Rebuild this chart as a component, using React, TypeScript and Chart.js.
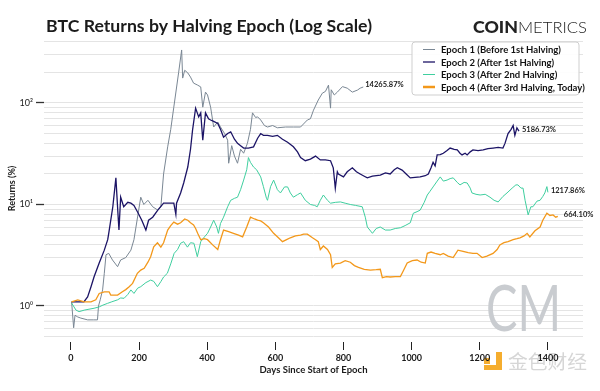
import React, { useEffect, useRef } from 'react';
import { Chart, registerables } from 'chart.js';

Chart.register(...registerables);

// ---------- data ----------
const seriesLabels = [
  'Epoch 1 (Before 1st Halving)',
  'Epoch 2 (After 1st Halving)',
  'Epoch 3 (After 2nd Halving)',
  'Epoch 4 (After 3rd Halving, Today)',
];
const endLabels = ['14265.87%', '5186.73%', '1217.86%', '664.10%'];

const epoch1Days = [2, 8, 12, 20, 29, 49, 67, 78, 81, 86, 93, 98, 103, 111, 122, 137, 146, 161, 176, 185, 205, 214, 226, 240, 255, 264, 272, 284, 293, 302, 316, 325, 328, 334, 343, 351, 360, 372, 381, 387, 395, 401, 410, 419, 431, 439, 451, 460, 463, 472, 480, 489, 498, 507, 518, 527, 533, 542, 548, 557, 568, 577, 592, 606, 630, 653, 674, 694, 703, 712, 726, 738, 747, 756, 762, 764, 773, 782, 797, 811, 826, 841, 849, 858];
const epoch1Values = [1.1, 0.61, 0.81, 0.78, 0.76, 0.73, 0.73, 0.73, 1.0, 1.15, 1.44, 2.1, 3.2, 3.3, 2.84, 2.44, 2.84, 3.0, 3.55, 4.5, 11.8, 10, 11, 9.5, 8.8, 9.5, 20, 37, 55, 91, 198, 333, 176, 210, 198, 180, 157, 150, 144, 91, 128, 120, 91, 58, 65, 58, 50, 43, 25.5, 38, 30, 25.5, 35, 32, 40, 55, 80, 72, 73, 68, 60, 58, 60, 57, 58, 58, 58, 68, 70, 85, 107, 125, 130, 150, 89, 135, 120, 128, 145, 140, 128, 134, 140, 143.6587];

const epoch2Days = [2, 38, 49, 59, 68, 83, 98, 108, 111, 123, 132, 138, 141, 146, 155, 167, 176, 185, 196, 208, 220, 228, 240, 255, 272, 287, 302, 308, 310, 322, 331, 343, 351, 357, 366, 375, 381, 387, 395, 404, 410, 419, 431, 439, 448, 460, 469, 480, 489, 498, 507, 521, 536, 548, 557, 565, 577, 592, 606, 621, 636, 653, 665, 674, 688, 703, 718, 732, 747, 762, 770, 776, 782, 785, 800, 811, 826, 838, 849, 861, 870, 885, 908, 923, 937, 949, 958, 972, 984, 996, 1010, 1025, 1040, 1049, 1057, 1063, 1069, 1075, 1084, 1093, 1104, 1113, 1125, 1134, 1142, 1148, 1157, 1163, 1172, 1180, 1195, 1210, 1224, 1239, 1254, 1268, 1274, 1283, 1292, 1298, 1303, 1309, 1315];
const epoch2Values = [1.1, 1.1, 1.23, 1.55, 1.94, 2.65, 3.55, 4.5, 5.2, 9.5, 18.3, 8.2, 5.6, 11.8, 9.5, 10.5, 10.3, 9.8, 8.4, 7.0, 5.6, 7, 7.5, 8.8, 10.3, 10.3, 10.3, 8.0, 10.3, 13, 16.3, 23.4, 35, 54, 89, 73, 80, 43, 80, 70, 68, 66, 63, 55, 46, 50, 52, 44, 40, 38, 36, 36, 37, 45, 50, 48, 48, 47, 48, 44, 41, 37, 33, 29, 27, 28, 30, 27.5, 27.5, 27, 23, 14.5, 21, 20, 18.7, 21, 23, 21, 20, 19, 18.3, 19, 19.5, 20.5, 20, 22, 23, 21.8, 20, 18.3, 18.5, 18.7, 19.2, 20, 23, 26, 24, 30.8, 31, 32, 34, 36, 35, 34.5, 32, 30.8, 32, 30.8, 33, 34.5, 34, 34.5, 35.5, 36, 36.5, 36, 40, 50, 55, 60, 48, 57, 52.8673];

const epoch3Days = [2, 15, 24, 39, 53, 68, 83, 94, 107, 120, 137, 146, 156, 167, 176, 185, 196, 205, 220, 234, 243, 254, 264, 272, 283, 293, 303, 313, 322, 331, 342, 351, 361, 371, 381, 392, 401, 410, 419, 428, 433, 439, 448, 460, 469, 480, 489, 498, 507, 516, 521, 527, 536, 545, 557, 565, 574, 577, 586, 595, 606, 615, 627, 636, 644, 653, 665, 674, 688, 703, 715, 723, 732, 741, 753, 762, 776, 791, 805, 820, 835, 855, 864, 870, 885, 896, 908, 923, 937, 952, 967, 981, 996, 1005, 1016, 1025, 1037, 1046, 1054, 1063, 1075, 1084, 1093, 1104, 1113, 1122, 1134, 1142, 1154, 1163, 1172, 1177, 1189, 1201, 1216, 1230, 1242, 1254, 1268, 1280, 1295, 1306, 1312, 1321, 1327, 1333, 1342, 1350, 1356, 1368, 1377, 1385, 1391, 1397, 1400];
const epoch3Values = [1.07, 0.91, 0.88, 0.91, 0.93, 0.95, 0.98, 1.02, 1.06, 1.1, 1.15, 1.2, 1.19, 1.3, 1.44, 1.33, 1.5, 1.55, 1.7, 1.8, 1.75, 1.55, 1.74, 1.93, 2.1, 2.6, 3.3, 3.6, 4.15, 4.3, 3.8, 4.2, 4.15, 3.06, 4.3, 4.8, 5.2, 6, 7.0, 6, 5.2, 6.5, 7.5, 9.5, 11, 11.5, 11.8, 14, 17.4, 22, 29, 26, 23.4, 22, 18.7, 15, 11.5, 11, 15, 17.4, 14, 13, 14.9, 14.9, 13, 11.8, 12.5, 13, 11, 10, 9.8, 9.5, 11, 12.4, 11, 10.3, 10.5, 10.6, 10.3, 10, 9.8, 9.5, 7.5, 6, 5.2, 5.8, 6, 5.6, 5.6, 5.8, 5.9, 6.2, 6.6, 8.2, 8.5, 8.8, 10.5, 12.4, 13.5, 14.9, 17, 18.7, 17, 17.4, 18, 18.3, 16.5, 15.6, 16.5, 16.3, 14.5, 13, 12.6, 12.4, 12.6, 11.8, 11, 10.6, 12, 13, 14.5, 15.6, 15.6, 14.5, 14.5, 11, 7.9, 9.5, 9.5, 10.8, 11, 12, 13, 15, 13.1786];

const epoch4Days = [2, 20, 39, 59, 73, 83, 98, 112, 117, 137, 151, 161, 171, 181, 195, 205, 215, 226, 234, 243, 254, 264, 272, 284, 293, 302, 313, 322, 334, 343, 351, 360, 366, 372, 381, 392, 401, 416, 431, 439, 448, 463, 477, 492, 504, 516, 527, 539, 548, 557, 565, 580, 595, 609, 621, 633, 644, 659, 674, 683, 694, 709, 718, 726, 732, 741, 753, 762, 767, 776, 791, 805, 820, 832, 844, 861, 879, 896, 908, 914, 926, 937, 952, 967, 975, 987, 1002, 1016, 1028, 1040, 1046, 1057, 1069, 1084, 1093, 1107, 1122, 1136, 1151, 1166, 1180, 1192, 1207, 1221, 1239, 1251, 1259, 1271, 1283, 1298, 1309, 1318, 1330, 1339, 1347, 1362, 1377, 1385, 1397, 1406, 1415, 1423, 1429];
const epoch4Values = [1.1, 1.15, 1.1, 1.1, 1.15, 1.33, 1.38, 1.38, 1.28, 1.28, 1.38, 1.45, 1.55, 1.67, 2.1, 2.26, 2.35, 2.7, 3.06, 3.83, 4.2, 3.8, 4.2, 5.6, 6.2, 6.7, 6.4, 6.6, 7.2, 7.0, 6.6, 6.3, 5.8, 5.2, 4.5, 4.6, 4.5, 4.0, 3.6, 4.5, 5.6, 5.4, 5.2, 5.0, 4.8, 6.0, 7.5, 7.2, 7.0, 6.9, 6.6, 6.0, 5.2, 4.7, 4.3, 4.5, 4.7, 4.9, 5.0, 5.1, 5.1, 4.7, 4.5, 4.3, 3.6, 3.9, 3.6, 3.2, 2.4, 2.6, 2.65, 2.8, 2.7, 2.5, 2.4, 2.3, 2.26, 2.28, 2.3, 1.9, 1.95, 1.93, 1.95, 1.95, 2.2, 2.65, 2.8, 2.84, 2.7, 2.65, 3.3, 3.4, 3.3, 3.2, 3.3, 3.1, 3.0, 3.55, 3.45, 3.35, 3.3, 3.3, 3.0, 3.1, 3.3, 3.6, 4.0, 4.2, 4.3, 4.5, 4.6, 4.7, 4.9, 5.2, 4.8, 5.5, 6.0, 7.0, 8.2, 7.8, 7.9, 7.5, 7.641];

const xTickValues = [0, 200, 400, 600, 800, 1000, 1200, 1400];
const yGridValues = [0.5, 0.6, 0.7, 0.8, 0.9, 1, 2, 3, 4, 5, 6, 7, 8, 9, 10, 20, 30, 40, 50, 60, 70, 80, 90, 100, 200, 300, 400];
const yLabelValues = [1, 10, 100];
const yTickLabels = ['10\u2070', '10\u00B9', '10\u00B2'];

const xTitle = 'Days Since Start of Epoch';
const yTitle = 'Returns (%)';
const chartTitle = 'BTC Returns by Halving Epoch (Log Scale)';

// ---------- styles ----------
const colors = ['#7a8794', '#1c1466', '#3fcf9f', '#f3981a'];
const widths = [1, 1.3, 1, 1.3];
const legendWidths = [1, 1.3, 1, 2.5];
const labelOffsets = [2, 3, 3, 6];
const FONT = 'Lato, "Open Sans", sans-serif';

const zip = (d: number[], v: number[]) => d.map((x, i) => ({ x, y: v[i] }));

function fitText(ctx: CanvasRenderingContext2D, text: string, x: number, y: number, width: number) {
  const w = ctx.measureText(text).width;
  ctx.save();
  ctx.translate(x, y);
  ctx.scale(width / w, 1);
  ctx.fillText(text, 0, 0);
  ctx.restore();
}

const overlayPlugin = {
  id: 'overlay',
  beforeDraw(chart: any) {
    const { ctx, width, height } = chart;
    ctx.save();
    ctx.fillStyle = '#ffffff';
    ctx.fillRect(0, 0, width, height);
    // 金色财经 watermark (under the axis labels)
    ctx.fillStyle = '#f5ad2e';
    ctx.fillRect(484, 358, 6, 6);
    ctx.fillRect(496, 352, 6, 18);
    ctx.fillRect(484, 365, 18, 5);
    ctx.fillStyle = '#d6d6d6';
    ctx.textBaseline = 'alphabetic';
    ctx.font = `19px "Noto Sans CJK SC", sans-serif`;
    fitText(ctx, '金色财经', 508, 369, 79);
    ctx.restore();
  },
  beforeDatasetsDraw(chart: any) {
    const { ctx } = chart;
    // CM watermark
    ctx.save();
    const grad = ctx.createLinearGradient(486, 283, 561, 331);
    grad.addColorStop(0, '#c9ccd0');
    grad.addColorStop(1, '#e2e4e6');
    ctx.fillStyle = grad;
    ctx.font = `400 64px ${FONT}`;
    ctx.textBaseline = 'alphabetic';
    fitText(ctx, 'CM', 486, 331, 75);
    ctx.restore();
  },
  afterDatasetsDraw(chart: any) {
    const { ctx } = chart;
    // end labels
    ctx.save();
    ctx.font = `bold 7.5px ${FONT}`;
    ctx.fillStyle = '#222222';
    ctx.textBaseline = 'middle';
    ctx.textAlign = 'left';
    chart.data.datasets.forEach((_: any, i: number) => {
      const meta = chart.getDatasetMeta(i);
      const last = meta.data[meta.data.length - 1];
      ctx.fillText(endLabels[i], last.x + labelOffsets[i], last.y - 2);
    });
    ctx.restore();

    // legend
    const bx = 412, by = 42, bw = 167, bh = 53, r = 3;
    ctx.save();
    ctx.beginPath();
    ctx.moveTo(bx + r, by);
    ctx.lineTo(bx + bw - r, by);
    ctx.arcTo(bx + bw, by, bx + bw, by + r, r);
    ctx.lineTo(bx + bw, by + bh - r);
    ctx.arcTo(bx + bw, by + bh, bx + bw - r, by + bh, r);
    ctx.lineTo(bx + r, by + bh);
    ctx.arcTo(bx, by + bh, bx, by + bh - r, r);
    ctx.lineTo(bx, by + r);
    ctx.arcTo(bx, by, bx + r, by, r);
    ctx.closePath();
    ctx.fillStyle = 'rgba(255,255,255,0.92)';
    ctx.fill();
    ctx.strokeStyle = '#cfcfcf';
    ctx.lineWidth = 1;
    ctx.stroke();
    ctx.font = `bold 9.5px ${FONT}`;
    ctx.fillStyle = '#111111';
    ctx.textBaseline = 'middle';
    seriesLabels.forEach((lab, i) => {
      const y = 49.5 + i * 12.5;
      ctx.beginPath();
      ctx.strokeStyle = colors[i];
      ctx.lineWidth = legendWidths[i];
      ctx.moveTo(423, y);
      ctx.lineTo(435, y);
      ctx.stroke();
      ctx.fillText(lab, 441, y + 0.5);
    });
    ctx.restore();
  },
  afterDraw(chart: any) {
    const { ctx } = chart;
    ctx.save();
    ctx.fillStyle = '#1b1b1b';
    ctx.textBaseline = 'alphabetic';
    ctx.font = `bold 17px ${FONT}`;
    fitText(ctx, chartTitle, 46, 32, 326);
    // Coin Metrics logo
    ctx.fillStyle = '#222222';
    ctx.font = `900 16px ${FONT}`;
    fitText(ctx, 'COIN', 473, 33, 45);
    ctx.font = `300 16px ${FONT}`;
    fitText(ctx, 'METRICS', 518, 33, 69);
    ctx.restore();
  },
};

export default function App() {
  const ref = useRef<HTMLCanvasElement | null>(null);
  useEffect(() => {
    if (!ref.current) return;
    const datasets = [
      zip(epoch1Days, epoch1Values),
      zip(epoch2Days, epoch2Values),
      zip(epoch3Days, epoch3Values),
      zip(epoch4Days, epoch4Values),
    ].map((data, i) => ({
      label: seriesLabels[i],
      data,
      borderColor: colors[i],
      backgroundColor: colors[i],
      borderWidth: widths[i],
      pointRadius: 0,
      tension: 0,
      fill: false,
      order: 3 - i,
    }));
    const chart = new Chart(ref.current, {
      type: 'line',
      data: { datasets },
      plugins: [overlayPlugin],
      options: {
        animation: false,
        responsive: false,
        devicePixelRatio: 1,
        layout: { padding: { top: 35, right: 17, left: 0, bottom: 0 } },
        plugins: { legend: { display: false }, title: { display: false }, tooltip: { enabled: false } },
        scales: {
          x: {
            type: 'linear',
            min: -79,
            max: 1503,
            afterFit: (s: any) => { s.height = 49; },
            afterBuildTicks: (s: any) => { s.ticks = xTickValues.map((v) => ({ value: v })); },
            border: { display: false },
            grid: { display: true, drawOnChartArea: false, drawTicks: true, tickLength: 8, tickColor: '#222', tickWidth: 1 },
            ticks: {
              color: '#1b1b1b',
              font: { family: FONT, size: 9, weight: 'bold' },
              padding: 3,
              maxRotation: 0,
              autoSkip: false,
              callback: (v: any) => String(v),
            },
            title: { display: true, text: xTitle, color: '#1b1b1b', font: { family: FONT, size: 9.5, weight: 'bold' }, padding: { top: 2, bottom: 15 } },
          },
          y: {
            type: 'logarithmic',
            min: 0.4418,
            max: 467.7,
            afterFit: (s: any) => { s.width = 44; },
            afterBuildTicks: (s: any) => { s.ticks = yGridValues.map((v) => ({ value: v, major: yLabelValues.includes(v) })); },
            border: { display: false },
            grid: {
              color: '#e4e4e4',
              lineWidth: 1,
              drawTicks: true,
              tickLength: 8,
              tickWidth: 1.3,
              tickColor: (c: any) => (c.tick && yLabelValues.includes(c.tick.value) ? '#333' : 'rgba(0,0,0,0)'),
            },
            ticks: {
              color: '#1b1b1b',
              font: { family: FONT, size: 9 },
              padding: 3,
              autoSkip: false,
              callback: (v: any) => {
                const idx = yLabelValues.indexOf(Number(v));
                return idx >= 0 ? yTickLabels[idx] : '';
              },
            },
            title: { display: true, text: yTitle, color: '#1b1b1b', font: { family: FONT, size: 9, weight: 'bold' }, padding: { top: 6.5, bottom: 0 } },
          },
        },
      },
    } as any);
    return () => chart.destroy();
  }, []);
  return (
    <div style={{ position: 'absolute', left: 0, top: 0, width: 600, height: 391, background: '#fff' }}>
      <canvas ref={ref} width={600} height={391} style={{ width: 600, height: 391, display: 'block' }} />
    </div>
  );
}
